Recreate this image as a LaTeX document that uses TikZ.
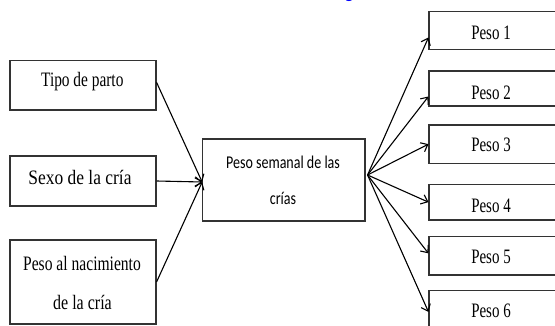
\documentclass[tikz,border=0pt]{standalone}
\usepackage{fontspec}
\setmainfont{Liberation Serif}
\newfontfamily\calibfont{Carlito}
\usetikzlibrary{arrows.meta}
\begin{document}
\begin{tikzpicture}[x=1pt,y=-1pt,
  box/.style={draw=black!80,line width=1.1pt,inner sep=0pt},
  lbl/.style={anchor=base,inner sep=0pt,font=\fontsize{20.5}{20.5}\selectfont},
  clbl/.style={anchor=base,inner sep=0pt,font=\calibfont\fontsize{18}{18}\selectfont},
  arr/.style={line width=1.1pt,-{Straight Barb[length=6pt,width=10pt]}}]
\useasboundingbox (0,0) rectangle (555,326);
% cut-off caption fragment
\node[clbl,text=blue] (cap) at (349,-1.5) {g};
% left boxes
\node[box,minimum width=146pt,minimum height=49.3pt] (tipo) at (83,85.35) {};
\node[box,minimum width=146pt,minimum height=50pt] (sexo) at (83,181) {};
\node[box,minimum width=146pt,minimum height=84pt] (nac) at (83,282) {};
% central box
\node[box,minimum width=162.3pt,minimum height=82pt] (central) at (283.85,180) {};
% right boxes
\node[box,minimum width=131pt,minimum height=37.6pt] (p1) at (494.5,30.5) {};
\node[box,minimum width=131pt,minimum height=35pt] (p2) at (494.5,88.5) {};
\node[box,minimum width=131pt,minimum height=38.3pt] (p3) at (494.5,144.15) {};
\node[box,minimum width=131pt,minimum height=35.7pt] (p4) at (494.5,202.15) {};
\node[box,minimum width=131pt,minimum height=38.3pt] (p5) at (494.5,255.85) {};
\node[box,minimum width=131pt,minimum height=39.3pt] (p6) at (494.5,310.35) {};
% texts
\node[lbl] (ttipo) at (82.3,86.7) {\scalebox{0.75}[1]{Tipo de parto}};
\node[lbl] (tsexo) at (80,184.3) {\scalebox{0.85}[1]{Sexo de la cría}};
\node[lbl] (tnac1) at (82,270.7) {\scalebox{0.76}[1]{Peso al nacimiento}};
\node[lbl] (tnac2) at (82.5,309.3) {\scalebox{0.78}[1]{de la cría}};
\node[clbl] (tc1) at (283,168.3) {\scalebox{0.78}[1]{Peso semanal de las}};
\node[clbl] (tc2) at (283,205) {\scalebox{0.78}[1]{crías}};
\node[lbl] (tp1) at (491,39.3) {\scalebox{0.73}[1]{Peso 1}};
\node[lbl] (tp2) at (491,99.3) {\scalebox{0.73}[1]{Peso 2}};
\node[lbl] (tp3) at (491,151.7) {\scalebox{0.73}[1]{Peso 3}};
\node[lbl] (tp4) at (491,212.3) {\scalebox{0.73}[1]{Peso 4}};
\node[lbl] (tp5) at (491,264) {\scalebox{0.73}[1]{Peso 5}};
\node[lbl] (tp6) at (491,317.3) {\scalebox{0.73}[1]{Peso 6}};
% connector points
\coordinate (cin) at ([yshift=-2pt]central.west);
\coordinate (cout) at ([yshift=5pt,xshift=2pt]central.east);
% arrows in
\draw[arr] ([yshift=3pt]tipo.east) -- (cin);
\draw[arr] (sexo.east) -- (cin);
\draw[arr] (nac.east) -- (cin);
% arrows out
\draw[arr] (cout) -- ([yshift=-7pt]p1.west);
\draw[arr] (cout) -- ([yshift=-8pt]p2.west);
\draw[arr] (cout) -- (p3.west);
\draw[arr] (cout) -- (p4.west);
\draw[arr] (cout) -- ([yshift=2.5pt]p5.west);
\draw[arr] (cout) -- ([yshift=-1.5pt]p6.west);
\end{tikzpicture}
\end{document}
